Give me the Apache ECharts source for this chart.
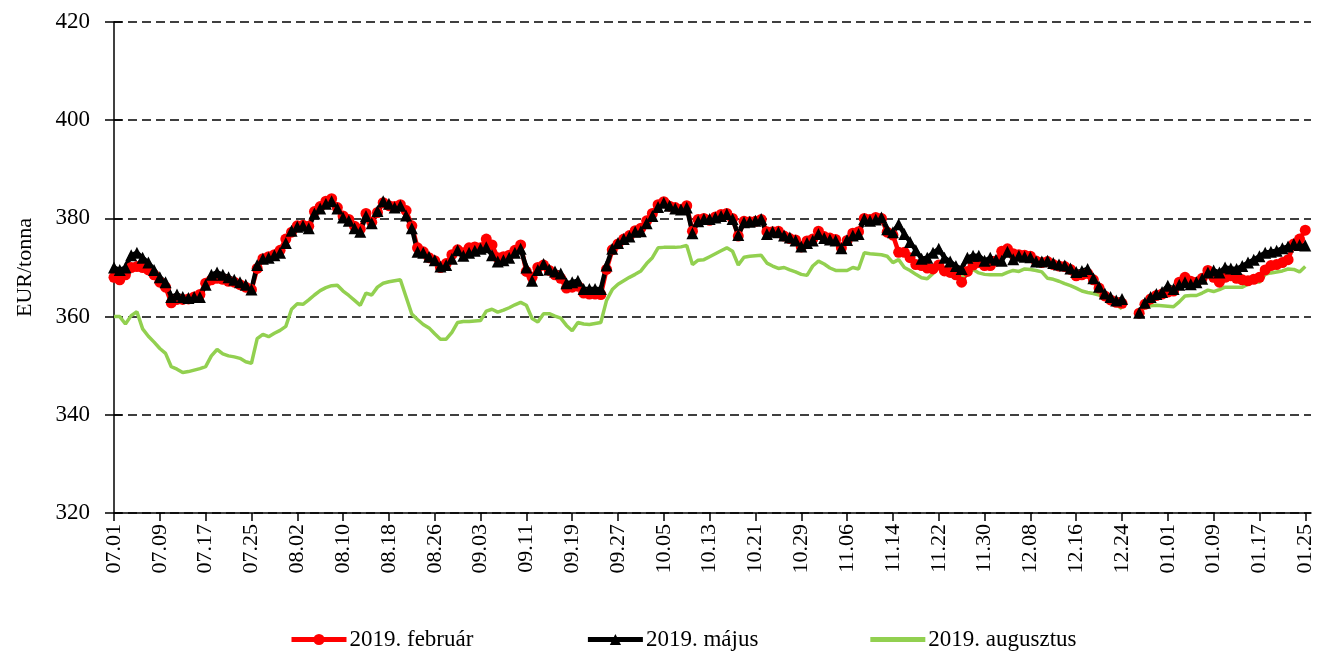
<!DOCTYPE html>
<html>
<head>
<meta charset="utf-8">
<title>EUR/tonna</title>
<script src="https://cdn.jsdelivr.net/npm/echarts@6/dist/echarts.min.js"></script>
<style>
  html, body { margin: 0; padding: 0; background: #fff; }
  #chart { width: 1321px; height: 655px; }
</style>
</head>
<body>
<div id="chart"></div>
<script>
// napi adatok 2018.07.01 - 2019.01.25 (12.25-12.26 nincs jegyzes)
const startDay = '2018-07-01'
const dayCount = 209

const feb2019 = [
  368, 367.5, 368.5, 370, 370.2, 370, 369.5, 368.5, 367, 366,
  362.8, 363.5, 363.5, 363.6, 364, 364.5, 366.8, 367.5, 367.8, 367.6,
  367.2, 367, 366.5, 366, 365.5, 369.8, 371.8, 372.2, 372.6, 373.5,
  375.8, 377.2, 378.5, 378.6, 378.4, 381.4, 382.4, 383.5, 384, 382.2,
  380.5, 379.8, 378.4, 377.8, 381, 379.2, 381.2, 383.2, 382.6, 382.4,
  382.8, 381.6, 378.5, 374, 373.2, 372, 371.4, 370, 370.8, 372.6,
  373.6, 373, 374, 374.2, 374, 375.8, 374.6, 372, 372.2, 372.5,
  373.5, 374.6, 369.2, 368, 370, 370.5, 369.4, 368.5, 367.8, 365.8,
  366, 366.2, 364.8, 364.6, 364.6, 364.5, 369.6, 373.6, 374.8, 375.8,
  376.5, 377.5, 378, 379.5, 381, 382.8, 383.4, 382.5, 382.2, 381.8,
  382.6, 377.4, 379.8, 380, 379.6, 380.3, 380.8, 381, 380, 376.4,
  379.4, 379.3, 379.4, 379.8, 377.3, 377.3, 377.4, 376.4, 375.9, 375.6,
  374.2, 375.4, 375.8, 377.4, 376.3, 376, 375.7, 374, 375.5, 377,
  377.3, 380, 379.8, 380.2, 380, 377.2, 376.6, 373.1, 373.1, 372,
  370.6, 370.4, 369.9, 369.7, 370.5, 369.3, 369, 368.5, 367, 369.2,
  370.5, 371, 370.4, 370.4, 371.3, 373.3, 373.8, 372.8, 372.6, 372.5,
  372.3, 371.3, 371, 371.2, 370.6, 370.3, 370.2, 369.6, 368.3, 368.5,
  368.8, 367.5, 365.8, 364.2, 363.4, 362.9, 362.7, null, null, 360.7,
  362.5, 363.6, 364.3, 364.6, 365, 365.2, 367, 368, 367.2, 367,
  367.8, 369.4, 368, 367, 368, 368.3, 367.8, 367.5, 367.3, 367.6,
  368, 369.5, 370.4, 370.6, 371, 371.6, 374.8, 375.8, 377.6
]

const maj2019 = [
  370, 369.5, 370, 372.5, 373, 372, 371, 369.5, 368, 367,
  364, 364.5, 364, 363.8, 364, 364, 366.5, 368.5, 369, 368.5,
  368, 367.5, 367, 366.5, 365.5, 370.5, 371.8, 372, 372.5, 373,
  375, 377.5, 378.3, 378.5, 378, 381, 382, 383, 383.5, 382,
  380.2, 379.5, 378, 377.3, 380.5, 379, 381.5, 383.5, 383, 382.2,
  382.6, 380.6, 378, 373.2, 373, 372.2, 371.5, 370.2, 370.5, 371.8,
  373.5, 372.4, 373, 373.4, 373.8, 374.1, 372.5, 371.2, 371.5, 372,
  373, 373.8, 370, 367.3, 369.5, 370.7, 369.6, 369.2, 368.8, 366.8,
  367, 367.3, 365.6, 365.6, 365.6, 365.6, 370.4, 373.8, 375, 375.8,
  376.3, 377.3, 377.4, 379, 380.5, 382.3, 383.2, 382.6, 382, 381.8,
  382.2, 377, 379.4, 379.9, 379.9, 380.2, 380.5, 380.9, 379.9, 376.6,
  379.2, 379.3, 379.5, 379.9, 376.8, 377.3, 377.2, 376.5, 376.1, 375.5,
  374.3, 375, 375.5, 376.8, 376, 375.7, 375.5, 373.9, 375.6, 376.5,
  376.8, 379.9, 379.5, 379.8, 380.2, 377.8, 377.2, 378.8, 376.8, 375.2,
  373.5, 371.8, 372, 373, 373.8, 372, 371.2, 370.3, 369.7, 372,
  372.4, 372.4, 371.4, 372, 371.6, 371.4, 373.2, 371.7, 372.4, 372.2,
  372.1, 371.2, 371.2, 371.4, 370.9, 370.6, 370.4, 369.8, 369.1, 369.3,
  369.7, 367.8, 366.1, 364.7, 364, 363.3, 363.6, null, null, 360.8,
  362.8, 364, 364.6, 365, 366.3, 365.6, 366.5, 367, 366.6, 367,
  367.7, 369, 369.4, 369, 370, 369.8, 369.7, 370.3, 371, 371.6,
  372.3, 373, 373.2, 373.4, 373.9, 374.3, 374.8, 374.6, 374.5
]

const aug2019 = [
  360, 360, 358.5, 360.2, 361, 357.5, 356, 354.8, 353.5, 352.5,
  349.8, 349.3, 348.6, 348.8, 349.1, 349.4, 349.8, 352, 353.3, 352.4,
  352, 351.8, 351.5, 350.8, 350.5, 355.5, 356.4, 355.9, 356.6, 357.2,
  358, 361.5, 362.6, 362.5, 363.4, 364.4, 365.3, 365.9, 366.3, 366.4,
  365.2, 364.3, 363.3, 362.3, 364.8, 364.4, 366, 366.8, 367.1, 367.3,
  367.5, 364, 360.5, 359.4, 358.4, 357.7, 356.5, 355.4, 355.4, 356.8,
  358.8, 359, 359, 359.1, 359.2, 361.1, 361.5, 360.9, 361.3, 361.8,
  362.4, 362.9, 362.3, 359.6, 358.9, 360.6, 360.6, 360.1, 359.7, 358.2,
  357.1, 358.8, 358.5, 358.4, 358.6, 358.8, 363.3, 365.5, 366.6, 367.3,
  368, 368.6, 369.3, 370.8, 372, 374, 374.1, 374.1, 374.1, 374.2,
  374.5, 370.6, 371.5, 371.6, 372.2, 372.8, 373.4, 374, 373.3, 370.5,
  372.1, 372.3, 372.4, 372.5, 370.9, 370.3, 369.8, 370, 369.5, 369.1,
  368.6, 368.4, 370.3, 371.3, 370.7, 369.9, 369.4, 369.4, 369.4, 370,
  369.7, 373, 372.8, 372.7, 372.6, 372.3, 371, 371.6, 370, 369.4,
  368.6, 367.9, 367.7, 368.8, 370.6, 369.4, 368.9, 368.4, 368, 368.8,
  369.6, 368.9, 368.6, 368.5, 368.5, 368.5, 369, 369.4, 369.2, 369.7,
  369.6, 369.4, 369.1, 367.8, 367.6, 367.2, 366.7, 366.3, 365.8, 365.2,
  364.9, 364.7, 364.4, 364, 363.2, 362.4, 361.6, null, null, 360.6,
  362, 362.2, 362.3, 362.2, 362.1, 362, 363, 364.2, 364.3, 364.3,
  364.8, 365.4, 365.1, 365.5, 366, 366, 366, 366, 366.6, 367.3,
  367, 368.6, 368.9, 369.1, 369.3, 369.7, 369.6, 369.1, 370.2
]

const seriesNames = ['2019. február', '2019. május', '2019. augusztus']

// MM.DD feliratok minden napra, a vegen egy ures hely
function buildDays () {
  const out = []
  const d = new Date(startDay + 'T12:00:00Z')
  for (let i = 0; i < dayCount; i++) {
    const mm = String(d.getUTCMonth() + 1).padStart(2, '0')
    const dd = String(d.getUTCDate()).padStart(2, '0')
    out.push(mm + '.' + dd)
    d.setUTCDate(d.getUTCDate() + 1)
  }
  out.push('')
  return out
}
const days = buildDays()

const font = 'Liberation Serif, Times New Roman, serif'

const yCommon = { type: 'value', min: 320, max: 420, interval: 20 }

let myChart = echarts.init(document.getElementById('chart'))
myChart.setOption({
  animation: false,
  backgroundColor: '#fff',
  textStyle: { fontFamily: font, color: '#000' },
  grid: { left: 114, right: 10, top: 22, bottom: 142 },
  legend: {
    top: 623,
    left: 284,
    itemGap: 112,
    itemWidth: 55,
    itemHeight: 14,
    lineStyle: { width: 5 },
    textStyle: { fontFamily: font, fontSize: 23, color: '#000', padding: [0, 0, 0, -2] },
    data: [
      { name: seriesNames[0] },
      { name: seriesNames[1] },
      { name: seriesNames[2], icon: 'path://M0,0 L55,0 L55,5 L0,5 Z', itemStyle: { color: '#92d050' } }
    ]
  },
  xAxis: {
    type: 'category',
    boundaryGap: false,
    data: days,
    axisLine: { lineStyle: { color: '#000', width: 1.5 } },
    axisTick: { interval: 7, length: 8, lineStyle: { color: '#000', width: 1.5 } },
    axisLabel: {
      interval: 7,
      rotate: 90,
      margin: 11,
      fontFamily: font,
      fontSize: 22,
      color: '#000'
    },
    splitLine: { show: false }
  },
  yAxis: [
    Object.assign({}, yCommon, {
      name: 'EUR/tonna',
      nameLocation: 'middle',
      nameGap: 78,
      nameTextStyle: { fontFamily: font, fontSize: 22, color: '#000' },
      axisLine: { show: true, lineStyle: { color: '#000', width: 1.5 } },
      axisTick: { show: true, length: 9, lineStyle: { color: '#000', width: 1.5 } },
      axisLabel: { margin: 24, fontFamily: font, fontSize: 23, color: '#000' },
      splitLine: { lineStyle: { color: '#000', width: 1.5, type: [9, 5] } }
    }),
    // csak a belso osztasjelekhez
    Object.assign({}, yCommon, {
      position: 'left',
      axisLine: { show: false },
      axisTick: { show: true, inside: true, length: 8, lineStyle: { color: '#000', width: 1.5 } },
      axisLabel: { show: false },
      splitLine: { show: false }
    })
  ],
  series: [
    {
      name: seriesNames[0],
      type: 'line',
      data: feb2019,
      showAllSymbol: true,
      symbol: 'circle',
      symbolSize: 11,
      connectNulls: false,
      itemStyle: { color: '#ff0000' },
      lineStyle: { color: '#ff0000', width: 4.5 }
    },
    {
      name: seriesNames[1],
      type: 'line',
      data: maj2019,
      showAllSymbol: true,
      symbol: 'triangle',
      symbolSize: 12,
      connectNulls: false,
      itemStyle: { color: '#000' },
      lineStyle: { color: '#000', width: 4.5 }
    },
    {
      name: seriesNames[2],
      type: 'line',
      data: aug2019,
      showSymbol: false,
      symbol: 'none',
      connectNulls: false,
      itemStyle: { color: '#92d050' },
      lineStyle: { color: '#92d050', width: 3.5 }
    }
  ]
})
</script>
</body>
</html>
